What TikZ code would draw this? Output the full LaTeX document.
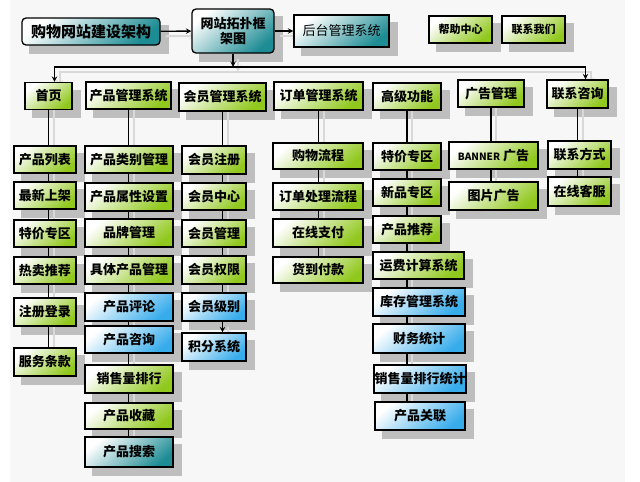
\documentclass[tikz,border=0pt]{standalone}
\usepackage{fontspec}
\setmainfont{Noto Sans CJK SC}
\usepackage{xcolor}
\usepackage{tikz}
\usetikzlibrary{calc}
\usetikzlibrary{shapes,arrows,positioning,backgrounds}
\pgfdeclarelayer{shade}
\pgfdeclarelayer{wire}
\pgfsetlayers{background,shade,wire,main}
\definecolor{leafgreen}{RGB}{145,200,30}
\definecolor{seateal}{RGB}{30,140,148}
\definecolor{skyblue}{RGB}{55,172,235}
\definecolor{shadegray}{RGB}{190,190,190}
\definecolor{paper}{RGB}{247,247,247}
\begin{document}
\begin{tikzpicture}[x=1pt,y=-1pt,
	box/.style={draw=black,line width=1.3pt,inner sep=0pt,minimum height=27pt,font=\bfseries\fontsize{13}{15}\selectfont},
	gbox/.style={box,top color=white,bottom color=leafgreen,shading angle=40},
	bbox/.style={box,top color=white,bottom color=skyblue,shading angle=40},
	tbox/.style={box,top color=white,bottom color=seateal,shading angle=40},
	wire/.style={draw=black,line width=1.4pt,preaction={draw=gray!30,line width=2pt,transform canvas={xshift=5pt,yshift=-5pt}}}]
	\useasboundingbox (0,0) rectangle (640,482);
	\begin{pgfonlayer}{background}
		\fill[paper] (10,0) rectangle (625,482);
	\end{pgfonlayer}
	\node[tbox,rounded corners=4pt,minimum width=138pt,font=\bfseries\fontsize{15}{17}\selectfont] (title) at (91,31.5) {购物网站建设架构};
	\node[tbox,rounded corners=4pt,minimum width=82pt,minimum height=44pt,align=center] (topo) at (233,31) {网站拓扑框\\架图};
	\node[tbox,minimum width=95pt,minimum height=32pt,font=\fontsize{13}{15}\selectfont] (backend) at (341.5,31) {后台管理系统};
	\node[gbox,minimum width=63pt,font=\bfseries\fontsize{11}{13}\selectfont] (help) at (460.5,29.5) {帮助中心};
	\node[gbox,minimum width=63pt,font=\bfseries\fontsize{11}{13}\selectfont] (about) at (533.5,29.5) {联系我们};
	\coordinate (bus) at (233,67);

	\node[gbox,minimum width=47pt] (home) at (48.5,96) {首页};
	\node[gbox,minimum width=85pt] (prod) at (128.5,95.5) {产品管理系统};
	\node[gbox,minimum width=87pt,minimum height=28pt] (member) at (222.5,97) {会员管理系统};
	\node[gbox,minimum width=89pt,minimum height=28pt] (order) at (318.5,96) {订单管理系统};
	\node[gbox,minimum width=68pt] (adv) at (407,96.5) {高级功能};
	\node[gbox,minimum width=66pt] (ad) at (491,93.5) {广告管理};
	\node[gbox,minimum width=61pt,minimum height=28pt] (contact) at (577.5,94) {联系咨询};

	\node[gbox,minimum width=62pt] (hlist) at (45,159.5) {产品列表};
	\node[gbox,minimum width=62pt] (hnew) at (45,195.5) {最新上架};
	\node[gbox,minimum width=62pt] (hsale) at (45,233.5) {特价专区};
	\node[gbox,minimum width=62pt] (hhot) at (45,270.5) {热卖推荐};
	\node[gbox,minimum width=62pt,minimum height=28pt] (hreg) at (45,312) {注册登录};
	\node[gbox,minimum width=62pt,minimum height=28pt] (hterm) at (45,362) {服务条款};

	\node[gbox,minimum width=88pt] (pcat) at (129,159.5) {产品类别管理};
	\node[gbox,minimum width=88pt,minimum height=28pt] (pattr) at (129,197) {产品属性设置};
	\node[gbox,minimum width=88pt,minimum height=28pt] (pbrand) at (129,233) {品牌管理};
	\node[gbox,minimum width=88pt,minimum height=28pt] (pitem) at (129,270) {具体产品管理};
	\node[bbox,minimum width=88pt,minimum height=28pt] (pcomm) at (129,307) {产品评论};
	\node[bbox,minimum width=88pt] (pask) at (129,339.5) {产品咨询};
	\node[gbox,minimum width=88pt,minimum height=28pt] (prank) at (129,379) {销售量排行};
	\node[gbox,minimum width=88pt,minimum height=26pt] (pfav) at (129,416) {产品收藏};
	\node[tbox,minimum width=88pt,minimum height=30pt] (psearch) at (129,452) {产品搜索};

	\node[gbox,minimum width=64pt,minimum height=28pt] (mreg) at (214,160) {会员注册};
	\node[gbox,minimum width=64pt] (mcenter) at (214,196.5) {会员中心};
	\node[gbox,minimum width=64pt] (mmanage) at (214,233.5) {会员管理};
	\node[gbox,minimum width=64pt,minimum height=28pt] (mright) at (214,270) {会员权限};
	\node[bbox,minimum width=64pt,minimum height=28pt] (mlevel) at (214,307) {会员级别};
	\node[bbox,minimum width=64pt,minimum height=28pt] (mpoint) at (214,347) {积分系统};

	\node[gbox,minimum width=90pt,minimum height=26pt] (oflow) at (318,156) {购物流程};
	\node[gbox,minimum width=90pt] (oproc) at (318,196.5) {订单处理流程};
	\node[gbox,minimum width=90pt,minimum height=28pt] (opay) at (318,233) {在线支付};
	\node[gbox,minimum width=90pt,minimum height=26pt] (ocod) at (318,270) {货到付款};

	\node[gbox,minimum width=68pt] (aspec) at (407,156.5) {特价专区};
	\node[gbox,minimum width=68pt] (anew) at (407,192.5) {新品专区};
	\node[gbox,minimum width=68pt] (arec) at (407,229.5) {产品推荐};
	\node[gbox,minimum width=91pt] (aship) at (418.5,265.5) {运费计算系统};
	\node[bbox,minimum width=92pt,minimum height=28pt] (astock) at (419,302) {库存管理系统};
	\node[bbox,minimum width=92pt,minimum height=29pt] (afin) at (419,338.5) {财务统计};
	\node[bbox,minimum width=92pt,minimum height=28pt] (arank) at (420,379) {销售量排行统计};
	\node[bbox,minimum width=90pt,minimum height=28pt] (alink) at (420,416) {产品关联};

	\node[gbox,minimum width=89pt] (dbanner) at (493.5,155.5) {{\fontsize{10}{12}\selectfont BANNER} 广告};
	\node[gbox,minimum width=89pt,minimum height=28pt] (dpic) at (493.5,196) {图片广告};

	\node[gbox,minimum width=63pt,minimum height=28pt] (cway) at (579.5,155) {联系方式};
	\node[gbox,minimum width=63pt,minimum height=29pt] (cserv) at (579.5,191.5) {在线客服};

	\begin{pgfonlayer}{shade}
		\foreach \n in {title,topo,backend,help,about,home,prod,member,order,adv,ad,contact,
			hlist,hnew,hsale,hhot,hreg,hterm,pcat,pattr,pbrand,pitem,pcomm,pask,prank,pfav,psearch,
			mreg,mcenter,mmanage,mright,mlevel,mpoint,oflow,oproc,opay,ocod,
			aspec,anew,arec,aship,astock,afin,arank,alink,dbanner,dpic,cway,cserv}
			\fill[shadegray] ([xshift=8pt,yshift=-8pt]\n.north west) rectangle ([xshift=8pt,yshift=-8pt]\n.south east);
	\end{pgfonlayer}

	\begin{pgfonlayer}{wire}
		\draw[wire,-stealth] (title) -- (topo);
		\draw[wire,-stealth] (topo) -- (backend);
		\draw[wire,-stealth] (topo) -- (bus);
		\draw[wire,-stealth] (bus) -| ([xshift=6pt]home.north);
		\draw[wire,-stealth] (bus) -| ([xshift=8pt]contact.north);
		\foreach \a/\b in {home/hterm,prod/psearch,member/mlevel,order/ocod,adv/alink,ad/dpic,contact/cserv}
			\draw[wire] (\a.center) -- (\a.center |- \b.center);
		\draw[wire,-stealth] (member.center |- mlevel.south) -- (member.center |- mpoint.north);
	\end{pgfonlayer}
\end{tikzpicture}
\end{document}
